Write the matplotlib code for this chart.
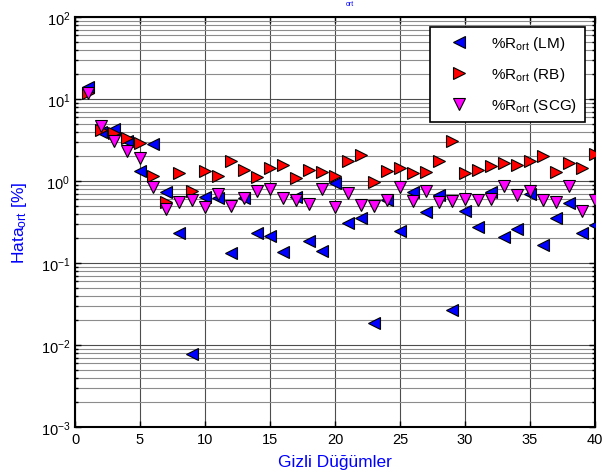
import matplotlib
matplotlib.use("Agg")
import matplotlib.pyplot as plt
import numpy as np
from matplotlib.ticker import LogLocator, FixedLocator, NullFormatter

plt.rcParams['font.family'] = ['Liberation Sans', 'DejaVu Sans']
plt.rcParams['mathtext.fontset'] = 'custom'
plt.rcParams['mathtext.rm'] = 'Liberation Sans'
plt.rcParams['mathtext.it'] = 'Liberation Sans:italic'
plt.rcParams['mathtext.bf'] = 'Liberation Sans:bold'

# Hidden-node counts
nodes = list(range(1, 41))

# Mean error (%) per training algorithm
err_lm = [13.9, 4.0, 4.3, 3.1, 1.34, 2.8, 0.73, 0.23, 0.0078, 0.63,
          0.62, 0.131, 0.62, 0.232, 0.211, 0.135, 0.63, 0.184, 0.139, 0.94,
          0.305, 0.35, 0.0185, 0.58, 0.248, 0.73, 0.42, 0.68, 0.027, 0.43,
          0.277, 0.73, 0.21, 0.26, 0.69, 0.166, 0.35, 0.54, 0.23, 0.29]
err_rb = [12.0, 4.2, 3.9, 3.3, 2.9, 1.16, 0.56, 1.24, 0.76, 1.34,
          1.16, 1.74, 1.37, 1.13, 1.43, 1.58, 1.08, 1.37, 1.30, 1.14,
          1.74, 2.07, 0.96, 1.34, 1.43, 1.25, 1.30, 1.74, 3.1, 1.25,
          1.37, 1.51, 1.64, 1.58, 1.74, 2.0, 1.30, 1.64, 1.46, 2.13]
err_scg = [11.8, 4.7, 3.1, 2.3, 1.9, 0.84, 0.45, 0.56, 0.59, 0.48,
           0.69, 0.49, 0.62, 0.76, 0.81, 0.62, 0.59, 0.52, 0.80, 0.48,
           0.71, 0.51, 0.49, 0.59, 0.85, 0.57, 0.75, 0.55, 0.57, 0.60,
           0.59, 0.61, 0.86, 0.67, 0.76, 0.59, 0.55, 0.88, 0.43, 0.58]

labels = [r'%R$_{\rm ort}$ (LM)', r'%R$_{\rm ort}$ (RB)', r'%R$_{\rm ort}$ (SCG)']

fig = plt.figure(figsize=(6.02, 4.77), dpi=100)
ax = fig.add_axes([75/602, 1 - 428/477, 520/602, 410/477])

ms = 8.5
ax.plot(nodes, err_lm, linestyle='none', marker='<', markersize=ms,
        markerfacecolor=(0, 0, 1), markeredgecolor='black', markeredgewidth=0.8,
        label=labels[0], zorder=3)
ax.plot(nodes, err_rb, linestyle='none', marker='>', markersize=ms,
        markerfacecolor=(1, 0, 0), markeredgecolor='black', markeredgewidth=0.8,
        label=labels[1], zorder=3)
ax.plot(nodes, err_scg, linestyle='none', marker='v', markersize=ms,
        markerfacecolor=(1, 0, 1), markeredgecolor='black', markeredgewidth=0.8,
        label=labels[2], zorder=3)

ax.set_yscale('log')
ax.set_xlim(0, 40)
ax.set_ylim(1e-3, 1e2)
ax.xaxis.set_major_locator(FixedLocator([0, 5, 10, 15, 20, 25, 30, 35, 40]))
ax.yaxis.set_major_locator(LogLocator(base=10, numticks=10))
ax.yaxis.set_minor_locator(LogLocator(base=10, subs=np.arange(2, 10), numticks=20))
ax.yaxis.set_minor_formatter(NullFormatter())

ax.grid(True, which='major', color='0.3', linewidth=0.8, zorder=0)
ax.grid(True, which='minor', axis='y', color='0.55', linewidth=0.8, zorder=0)
ax.set_axisbelow(True)

ax.tick_params(which='both', direction='in', top=True, right=True,
               labelsize=10.5, colors='black')
ax.tick_params(which='major', length=4, width=1)
ax.tick_params(which='minor', length=2.5, width=1)
for s in ax.spines.values():
    s.set_linewidth(1.5)
    s.set_color('black')

ax.set_xlabel('Gizli Düğümler', color=(0, 0, 1), fontsize=12.5, labelpad=6)
ax.set_ylabel(r'Hata$_{\rm ort}$ [%]', color=(0, 0, 1), fontsize=12.5, labelpad=8)

fig.text(350/602, 1 - 5/477, 'ort', color=(0, 0, 1), fontsize=5,
         ha='center', va='center')

leg = ax.legend(loc='upper right', bbox_to_anchor=(0.981, 0.976),
                fontsize=11, frameon=True, fancybox=False, edgecolor='black',
                framealpha=1, labelspacing=0.85, handletextpad=0.7,
                borderpad=0.5, handlelength=2.8, borderaxespad=0)
leg.get_frame().set_linewidth(1.2)

fig.savefig('out.png', dpi=100)
